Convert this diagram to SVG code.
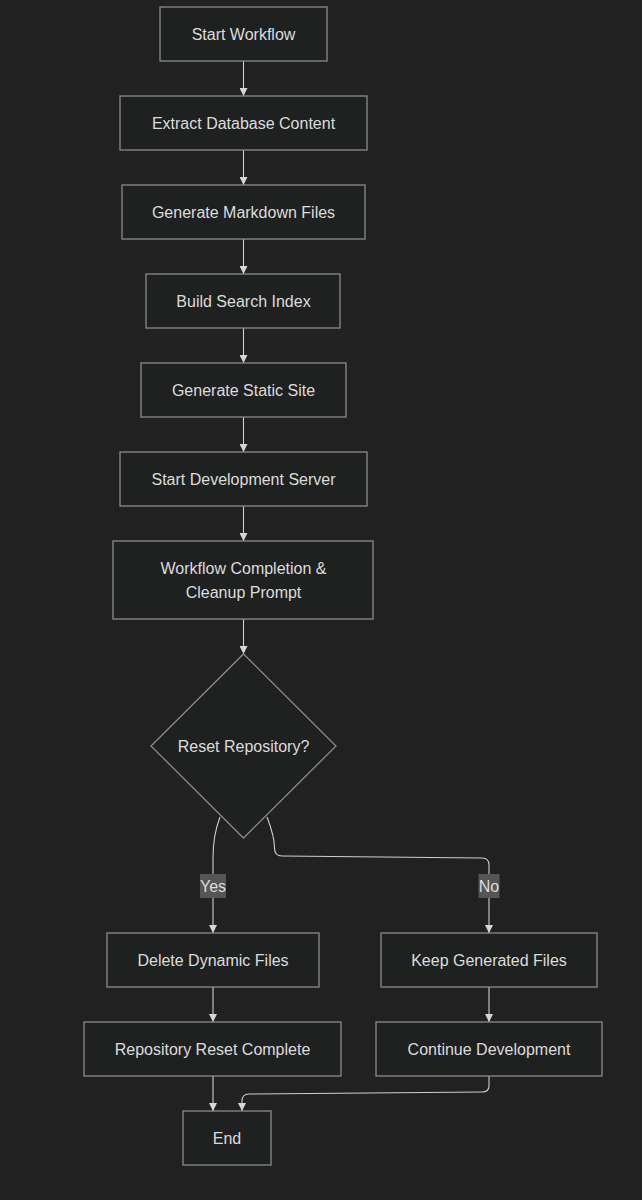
<svg xmlns="http://www.w3.org/2000/svg" width="642" height="1200" viewBox="0 0 642 1200">
<defs>
<marker id="arr" viewBox="0 0 10 10" refX="10" refY="5" markerWidth="8" markerHeight="8" markerUnits="userSpaceOnUse" orient="auto">
<path d="M0,0 L10,5 L0,10 z" fill="#d6d6d6"/>
</marker>
<style>
.n rect,.n polygon{fill:#1f2121;stroke:#8a8a8a;stroke-width:1.3}
.n text{font-family:"Liberation Sans",Arial,sans-serif;font-size:16px;fill:#dcdcdc;text-anchor:middle;dominant-baseline:central}
.e path{fill:none;stroke:#cfcfcf;stroke-width:1.1;marker-end:url(#arr)}
.lbl rect{fill:#555555}
.lbl text{font-family:"Liberation Sans",Arial,sans-serif;font-size:16px;fill:#dcdcdc;text-anchor:middle;dominant-baseline:central}
</style>
</defs>
<rect width="642" height="1200" fill="#212121"/>
<g id="edges" class="e">
<path d="M243.5,61 L243.5,96"/>
<path d="M243.5,150 L243.5,185"/>
<path d="M243.5,239 L243.5,274"/>
<path d="M243.5,328 L243.5,363"/>
<path d="M243.5,417 L243.5,452"/>
<path d="M243.5,506 L243.5,541"/>
<path d="M243.5,619 L243.5,654"/>
<path d="M220,817 C215,830 213,842 213,858 L213,933"/>
<path d="M267,817 C272,830 274.5,840 274.5,848 Q274.5,856 282,856 L482,858 Q489,858 489,865 L489,933"/>
<path d="M213,987 L213,1022"/>
<path d="M489,987 L489,1022"/>
<path d="M213,1076 L213,1111"/>
<path d="M489,1076 L489,1086 Q489,1092 482,1092 L249,1094 Q242,1094 242,1101 L242,1111"/>
</g>
<g id="label-yes" class="lbl"><rect x="200" y="874" width="26" height="24"/><text x="213" y="886">Yes</text></g>
<g id="label-no" class="lbl"><rect x="478.5" y="874" width="21" height="24"/><text x="489" y="886">No</text></g>
<g id="start" class="n"><rect x="160" y="7" width="167" height="54"/><text x="243.5" y="34">Start Workflow</text></g>
<g id="extract" class="n"><rect x="120" y="96" width="247" height="54"/><text x="243.5" y="123">Extract Database Content</text></g>
<g id="markdown" class="n"><rect x="122" y="185" width="243" height="54"/><text x="243.5" y="212">Generate Markdown Files</text></g>
<g id="index" class="n"><rect x="146" y="274" width="194" height="54"/><text x="243.5" y="301">Build Search Index</text></g>
<g id="static" class="n"><rect x="141" y="363" width="205" height="54"/><text x="243.5" y="390">Generate Static Site</text></g>
<g id="devserver" class="n"><rect x="120" y="452" width="247" height="54"/><text x="243.5" y="479">Start Development Server</text></g>
<g id="completion" class="n"><rect x="113" y="541" width="260" height="78"/><text x="243.5" y="568">Workflow Completion &amp;</text><text x="243.5" y="592">Cleanup Prompt</text></g>
<g id="reset" class="n"><polygon points="243.5,654 336,746 243.5,838 151,746"/><text x="243.5" y="746">Reset Repository?</text></g>
<g id="delete" class="n"><rect x="107" y="933" width="212" height="54"/><text x="213" y="960">Delete Dynamic Files</text></g>
<g id="keep" class="n"><rect x="381" y="933" width="216" height="54"/><text x="489" y="960">Keep Generated Files</text></g>
<g id="resetdone" class="n"><rect x="84" y="1022" width="257" height="54"/><text x="212.5" y="1049">Repository Reset Complete</text></g>
<g id="continue" class="n"><rect x="376" y="1022" width="226" height="54"/><text x="489" y="1049">Continue Development</text></g>
<g id="end" class="n"><rect x="183" y="1111" width="88" height="54"/><text x="227" y="1138">End</text></g>
</svg>
